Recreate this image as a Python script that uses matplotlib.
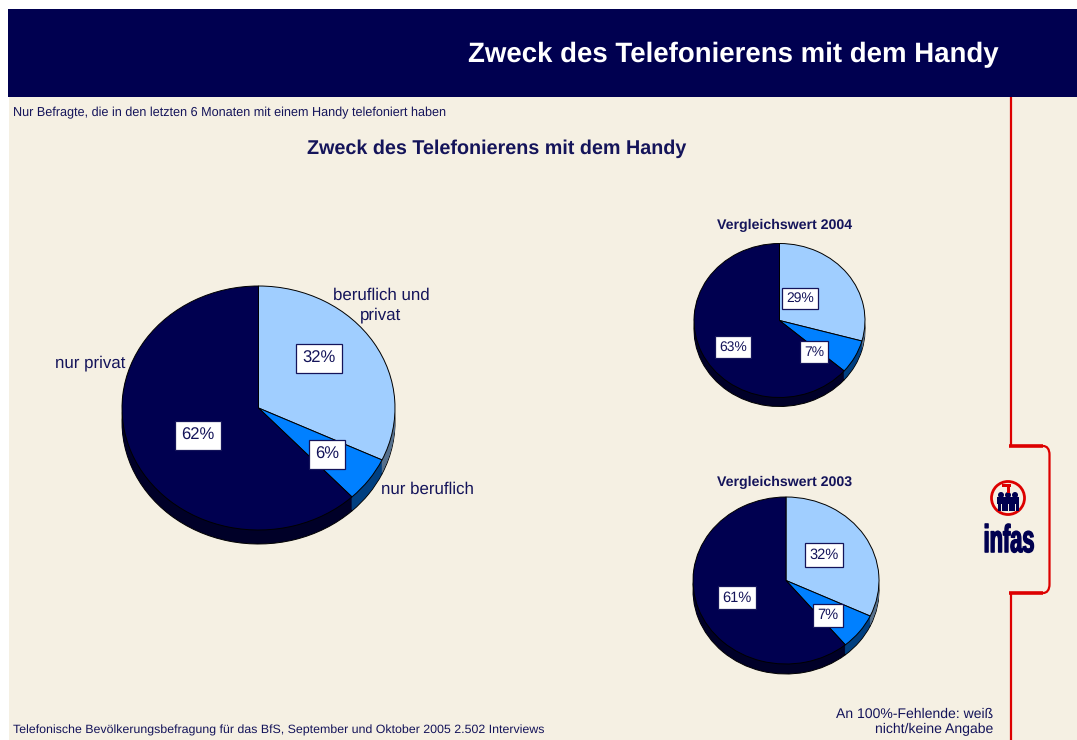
import matplotlib
matplotlib.use("Agg")
import matplotlib.pyplot as plt
from matplotlib.patches import Rectangle, Circle, PathPatch
from matplotlib.path import Path
from matplotlib.patheffects import AbstractPathEffect
from matplotlib.transforms import Affine2D

plt.rcParams['font.family'] = ['Liberation Sans', 'DejaVu Sans']
plt.rcParams['text.hinting'] = 'none'

W, H = 1077, 740
NAVY = '#000050'
TEXT = '#14145a'
RED = '#dd0000'
CREAM = '#f5f0e3'

main_title = 'Zweck des Telefonierens mit dem Handy'
subtitle = 'Nur Befragte, die in den letzten 6 Monaten mit einem Handy telefoniert haben'
footer = 'Telefonische Bevölkerungsbefragung für das BfS, September und Oktober 2005 2.502 Interviews'
note = 'An 100%-Fehlende: weiß\nnicht/keine Angabe'

# beruflich und privat, nur beruflich, nur privat
values_2005 = [32, 6, 62]
values_2004 = [29, 7, 63]
values_2003 = [32, 7, 61]

top_colors = ['#a0ceff', '#0080ff', '#000050']
side_colors = ['#56708c', '#003f80', '#000028']

fig = plt.figure(figsize=(W / 100, H / 100), dpi=100, facecolor='white')


class Squeeze(AbstractPathEffect):
    # narrow, heavy lettering for the logo, no condensed font is installed
    def __init__(self, cx, sx, stroke):
        super().__init__()
        self.cx = cx
        self.sx = sx
        self.stroke = stroke

    def draw_path(self, renderer, gc, tpath, affine, rgbFace=None):
        squeeze = Affine2D().translate(-self.cx, 0).scale(self.sx, 1).translate(self.cx, 0)
        gc0 = renderer.new_gc()
        gc0.copy_properties(gc)
        gc0.set_linewidth(self.stroke)
        gc0.set_foreground(rgbFace)
        renderer.draw_path(gc0, tpath, affine + squeeze, rgbFace)
        gc0.restore()


def px_axes(zorder):
    ax = fig.add_axes([0, 0, 1, 1], zorder=zorder)
    ax.set_xlim(0, W)
    ax.set_ylim(H, 0)
    ax.axis('off')
    return ax


def pie_3d(values, cx, cy, rx, ry, depth):
    # axes a bit bigger than the ellipse so nothing is cut off
    pad = 1.3
    ax = fig.add_axes([(cx - rx * pad) / W, 1 - (cy + ry * pad) / H,
                       2 * rx * pad / W, 2 * ry * pad / H], zorder=1)
    d = depth / ry
    # side wall: stacked copies moving up
    steps = int(depth)
    for i in range(steps, 0, -1):
        edge = {'edgecolor': 'black', 'linewidth': 0.7} if i == steps else {'linewidth': 0}
        ax.pie(values, colors=side_colors, startangle=90, counterclock=False,
               center=(0, -d * i / steps), wedgeprops=edge)
    ax.pie(values, colors=top_colors, startangle=90, counterclock=False,
           wedgeprops={'edgecolor': 'black', 'linewidth': 0.7})
    ax.set_aspect('auto')
    ax.set_xlim(-pad, pad)
    ax.set_ylim(-pad, pad)
    ax.patch.set_alpha(0)


def pct_label(ax, value, x, y, size, pad):
    ax.text(x, y, f'{value}%', fontsize=size, color=TEXT, ha='center', va='center',
            bbox={'boxstyle': f'square,pad={pad}', 'facecolor': 'white',
                  'edgecolor': TEXT, 'linewidth': 0.9})


bg = px_axes(0)
bg.add_patch(Rectangle((9, 97), W - 9, H - 97, facecolor=CREAM, edgecolor='none'))
bg.add_patch(Rectangle((8, 9), W - 8, 88, facecolor=NAVY, edgecolor='none'))

# red line with bracket round the logo
bg.plot([1011, 1011], [97, 446], color=RED, lw=1.6, solid_capstyle='butt')
bg.plot([1011, 1011], [593, H], color=RED, lw=1.6, solid_capstyle='butt')
bracket = Path([(1043, 446), (1047, 446), (1049.5, 449), (1049.5, 455),
                (1049.5, 584), (1049.5, 590), (1047, 593), (1043, 593)],
               [Path.MOVETO, Path.CURVE4, Path.CURVE4, Path.CURVE4,
                Path.LINETO, Path.CURVE4, Path.CURVE4, Path.CURVE4])
bg.add_patch(PathPatch(bracket, facecolor='none', edgecolor=RED, lw=1.6))
bg.plot([1009, 1043], [446, 446], color=RED, lw=2.6, solid_capstyle='butt')
bg.plot([1009, 1043], [593, 593], color=RED, lw=2.6, solid_capstyle='butt')

pie_3d(values_2005, 258.5, 408, 136.5, 122, 14)
pie_3d(values_2004, 779.5, 320.5, 85.5, 77, 9)
pie_3d(values_2003, 786, 580.5, 93, 83.5, 10)

fg = px_axes(2)
fg.text(999, 54.5, main_title, fontsize=19.9, fontweight='bold', color='white', ha='right', va='center')
fg.text(13, 112.5, subtitle, fontsize=9.08, color=TEXT, ha='left', va='center')
fg.text(496.5, 148.5, main_title, fontsize=14.2, fontweight='bold', color=TEXT, ha='center', va='center')
fg.text(785, 225.5, 'Vergleichswert 2004', fontsize=10.2, fontweight='bold', color=TEXT, ha='center', va='center')
fg.text(785, 482.5, 'Vergleichswert 2003', fontsize=10.2, fontweight='bold', color=TEXT, ha='center', va='center')
fg.text(13, 730.5, footer, fontsize=8.95, color=TEXT, ha='left', va='center')
fg.text(993, 722, note, fontsize=10.1, color=TEXT, ha='right', va='center', linespacing=1.2)

fg.text(381, 305, 'beruflich und\nprivat', fontsize=12.2, color=TEXT, ha='center', va='center', linespacing=1.27)
fg.text(125, 363.5, 'nur privat', fontsize=12.2, color=TEXT, ha='right', va='center')
fg.text(381, 489.5, 'nur beruflich', fontsize=12.2, color=TEXT, ha='left', va='center')

pct_label(fg, values_2005[0], 319, 358.5, 12, 0.38)
pct_label(fg, values_2005[1], 327, 454.5, 12, 0.38)
pct_label(fg, values_2005[2], 198, 435.5, 12, 0.38)
pct_label(fg, values_2004[0], 800, 298.5, 10, 0.32)
pct_label(fg, values_2004[1], 814, 352, 10, 0.32)
pct_label(fg, values_2004[2], 733, 347, 10, 0.32)
pct_label(fg, values_2003[0], 824, 555, 10.5, 0.32)
pct_label(fg, values_2003[1], 828, 615.5, 10.5, 0.32)
pct_label(fg, values_2003[2], 737, 597.5, 10.5, 0.32)

# infas logo
fg.add_patch(Circle((1008, 498), 16.5, facecolor='none', edgecolor=RED, lw=2.0))
fg.add_patch(Rectangle((997, 497), 22, 7, facecolor=NAVY, edgecolor='none'))
for x in [1001, 1008, 1015]:
    fg.add_patch(Circle((x, 495), 3, facecolor=NAVY, edgecolor='none'))
    fg.add_patch(Rectangle((x - 3.5, 503), 3, 8, facecolor=NAVY, edgecolor='none'))
    fg.add_patch(Rectangle((x + 0.5, 503), 3, 8, facecolor=NAVY, edgecolor='none'))
fg.add_patch(Rectangle((1002, 484), 9, 3, facecolor=RED, edgecolor='none'))
fg.add_patch(Rectangle((1007, 484), 3, 9, facecolor=RED, edgecolor='none'))
fg.text(1009, 542, 'infas', fontsize=28, fontweight='bold', color=NAVY, ha='center', va='center',
        path_effects=[Squeeze(1009, 0.56, 1.0)])

fig.savefig('out.png', dpi=100)
